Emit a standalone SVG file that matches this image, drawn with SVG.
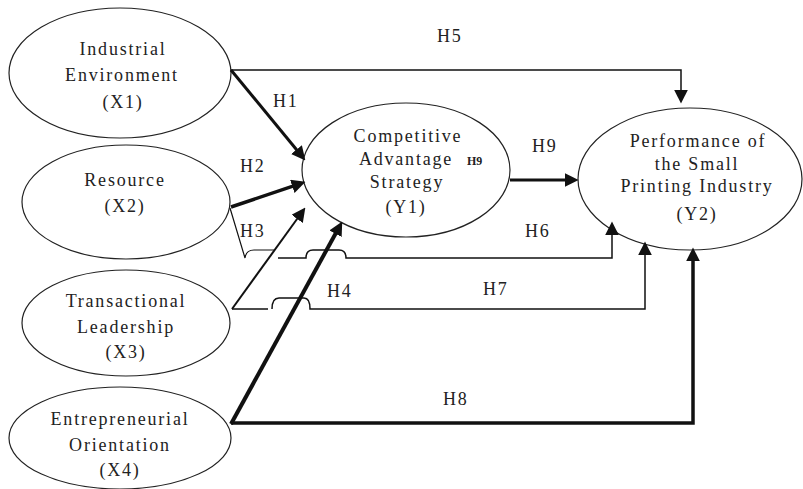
<svg xmlns="http://www.w3.org/2000/svg" width="803" height="489" viewBox="0 0 803 489" font-family="'Liberation Serif', 'Times New Roman', 'DejaVu Serif', serif">
<style>
.node{fill:#fff;stroke:#222;stroke-width:1.2}
text{font-family:'Liberation Serif','Times New Roman','DejaVu Serif',serif;font-size:18px;fill:#222;letter-spacing:1.8px}
.c{text-anchor:middle}
.ln{fill:none;stroke:#111;stroke-linejoin:miter}
.s{font-size:12px;font-weight:bold;letter-spacing:0}
</style>
<defs>
<marker id="ah" markerUnits="userSpaceOnUse" markerWidth="14" markerHeight="14" viewBox="0 0 13 13" refX="5" refY="6.5" orient="auto">
<path d="M0,0 L13,6.5 L0,13 z" fill="#111"/>
</marker>
</defs>
<rect width="803" height="489" fill="#fff"/>
<g id="X1"><ellipse class="node" cx="120" cy="73" rx="111" ry="65"/>
<text class="c" x="123" y="55">Industrial</text><text class="c" x="122" y="81">Environment</text><text class="c" x="123" y="108">(X1)</text></g>
<g id="X2"><ellipse class="node" cx="126" cy="202" rx="104" ry="57"/>
<text class="c" x="125" y="186">Resource</text><text class="c" x="125" y="212">(X2)</text></g>
<g id="X3"><ellipse class="node" cx="126" cy="323" rx="104" ry="53"/>
<text class="c" x="126" y="307">Transactional</text><text class="c" x="126" y="333">Leadership</text><text class="c" x="126" y="358">(X3)</text></g>
<g id="X4"><ellipse class="node" cx="120" cy="438" rx="111" ry="51"/>
<text class="c" x="120" y="425">Entrepreneurial</text><text class="c" x="120" y="451">Orientation</text><text class="c" x="120" y="476">(X4)</text></g>
<g id="Y1"><ellipse class="node" cx="406" cy="170" rx="104" ry="67"/>
<text class="c" x="408" y="142">Competitive</text><text class="c" x="406" y="165">Advantage</text><text class="c" x="407" y="188">Strategy</text><text class="c" x="406" y="213">(Y1)</text>
<text class="s" x="467" y="165">H9</text></g>
<g id="Y2"><ellipse class="node" cx="690" cy="179" rx="112" ry="71"/>
<text class="c" x="698" y="147">Performance of</text><text class="c" x="697" y="170">the Small</text><text class="c" x="697" y="192">Printing Industry</text><text class="c" x="697" y="220">(Y2)</text></g>
<g id="connectors">
<path class="ln" stroke-width="1.5" d="M231,70 L681,70 L681,95" marker-end="url(#ah)"/>
<path class="ln" stroke-width="3" d="M231,70 L299.9,153.8" marker-end="url(#ah)"/>
<path class="ln" stroke-width="3.5" d="M231,207 L297.4,184.6" marker-end="url(#ah)"/>
<path class="ln" stroke-width="2" d="M232,309 L300.3,214.5" marker-end="url(#ah)"/>
<path class="ln" stroke-width="4" d="M231,424 L338.1,229" marker-end="url(#ah)"/>
<path class="ln" stroke-width="1.2" d="M230,208 L245,258 Q246,250 254,250 L274,250"/>
<path class="ln" stroke-width="1.5" d="M278,258 L306,258 Q306,250 313,250 L339,250 Q346,250 346,258 L612,258 L612,230" marker-end="url(#ah)"/>
<path class="ln" stroke-width="1.5" d="M232,309 L268,309 M272,309 Q272,298 279,298 L304,298 Q310,298 310,309 L645,309 L645,250" marker-end="url(#ah)"/>
<path class="ln" stroke-width="3.5" d="M231,423 L693,423 L693,256" marker-end="url(#ah)"/>
<path class="ln" stroke-width="3" d="M510,180 L570,180" marker-end="url(#ah)"/>
</g>
<g id="labels">
<text x="437" y="42">H5</text>
<text x="273" y="107">H1</text>
<text x="240" y="172">H2</text>
<text x="240" y="237">H3</text>
<text x="327" y="297">H4</text>
<text x="525" y="237">H6</text>
<text x="483" y="295">H7</text>
<text x="443" y="405">H8</text>
<text x="532" y="152">H9</text>
</g>
</svg>
